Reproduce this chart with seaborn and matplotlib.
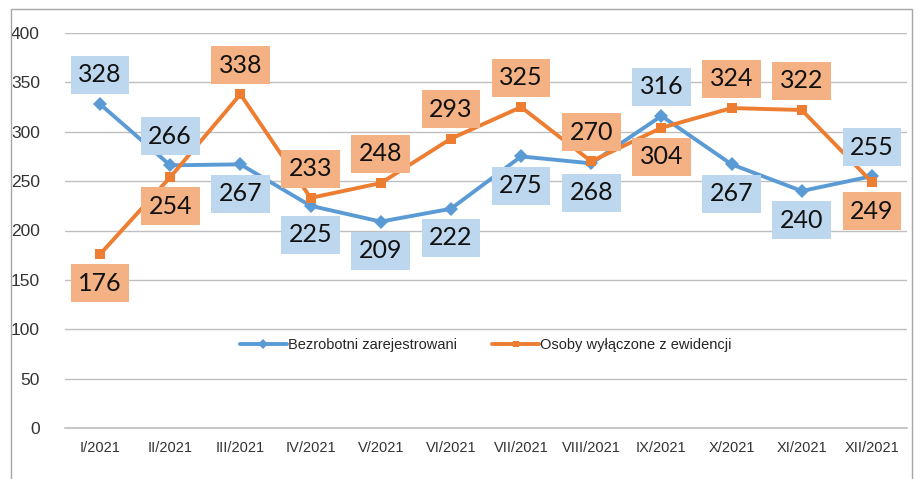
import pandas as pd
import matplotlib.pyplot as plt
import matplotlib.patches as mpatches
import seaborn as sns

sns.set_style('white')
plt.rcParams['font.family'] = ['Liberation Sans', 'DejaVu Sans']

months = ['I/2021', 'II/2021', 'III/2021', 'IV/2021', 'V/2021', 'VI/2021',
          'VII/2021', 'VIII/2021', 'IX/2021', 'X/2021', 'XI/2021', 'XII/2021']
registered = [328, 266, 267, 225, 209, 222, 275, 268, 316, 267, 240, 255]
removed = [176, 254, 338, 233, 248, 293, 325, 270, 304, 324, 322, 249]

# label above (1) or below (-1) the point
registered_side = [1, 1, -1, -1, -1, -1, -1, -1, 1, -1, -1, 1]
removed_side = [-1, -1, 1, 1, 1, 1, 1, 1, -1, 1, 1, -1]

name_reg = 'Bezrobotni zarejestrowani'
name_rem = 'Osoby wyłączone z ewidencji'

df = pd.DataFrame({'month': months * 2,
                   'value': registered + removed,
                   'series': [name_reg] * 12 + [name_rem] * 12})

blue = '#5B9BD5'
orange = '#ED7D31'

fig = plt.figure(figsize=(9.2, 4.79), dpi=100)
ax = fig.add_axes([65 / 920, 1 - 428 / 479, 842 / 920, 395 / 479])

sns.lineplot(data=df, x='month', y='value', hue='series', style='series',
             palette={name_reg: blue, name_rem: orange},
             markers={name_reg: 'D', name_rem: 's'},
             dashes={name_reg: '', name_rem: ''},
             markersize=7.5, markeredgewidth=0, linewidth=2.8, sort=False, ax=ax)

def add_labels(vals, sides, face):
    for i, (v, s) in enumerate(zip(vals, sides)):
        ax.annotate(str(v), (i, v), xytext=(0, 21 * s), textcoords='offset points',
                    ha='center', va='center', fontsize=18, family=['Lato', 'DejaVu Sans'],
                    color='#111111', zorder=5,
                    bbox=dict(boxstyle='square,pad=0.3', fc=face, ec='none'))

add_labels(registered, registered_side, '#BDD7EE')
add_labels(removed, removed_side, '#F4B183')

ax.set_xlim(-0.5, 11.5)
ax.set_ylim(0, 400)
ax.set_yticks(range(0, 401, 50))
ax.yaxis.grid(True, color='#BFBFBF', linewidth=1)
ax.set_axisbelow(True)
for side in ['top', 'right', 'left']:
    ax.spines[side].set_visible(False)
ax.spines['bottom'].set_color('#BFBFBF')
ax.spines['bottom'].set_linewidth(1.2)
ax.tick_params(axis='both', length=0, labelsize=10.5, colors='#333333')
ax.tick_params(axis='y', pad=18, labelsize=12.5)
ax.tick_params(axis='x', pad=9)
ax.set_xlabel('')
ax.set_ylabel('')

leg = ax.legend(loc='center', bbox_to_anchor=(0.5, 0.21), ncol=2, frameon=False,
                fontsize=10.5, handlelength=3.2, handletextpad=0.1, columnspacing=2.4)
for h in leg.legend_handles:
    h.set_markersize(5)

fig.patches.append(mpatches.Rectangle((11 / 920, -0.05), 901 / 920, 1.05 - 9 / 479,
                                      transform=fig.transFigure, fill=False,
                                      edgecolor='#A6A6A6', linewidth=1))

plt.savefig('out.png', dpi=100)
